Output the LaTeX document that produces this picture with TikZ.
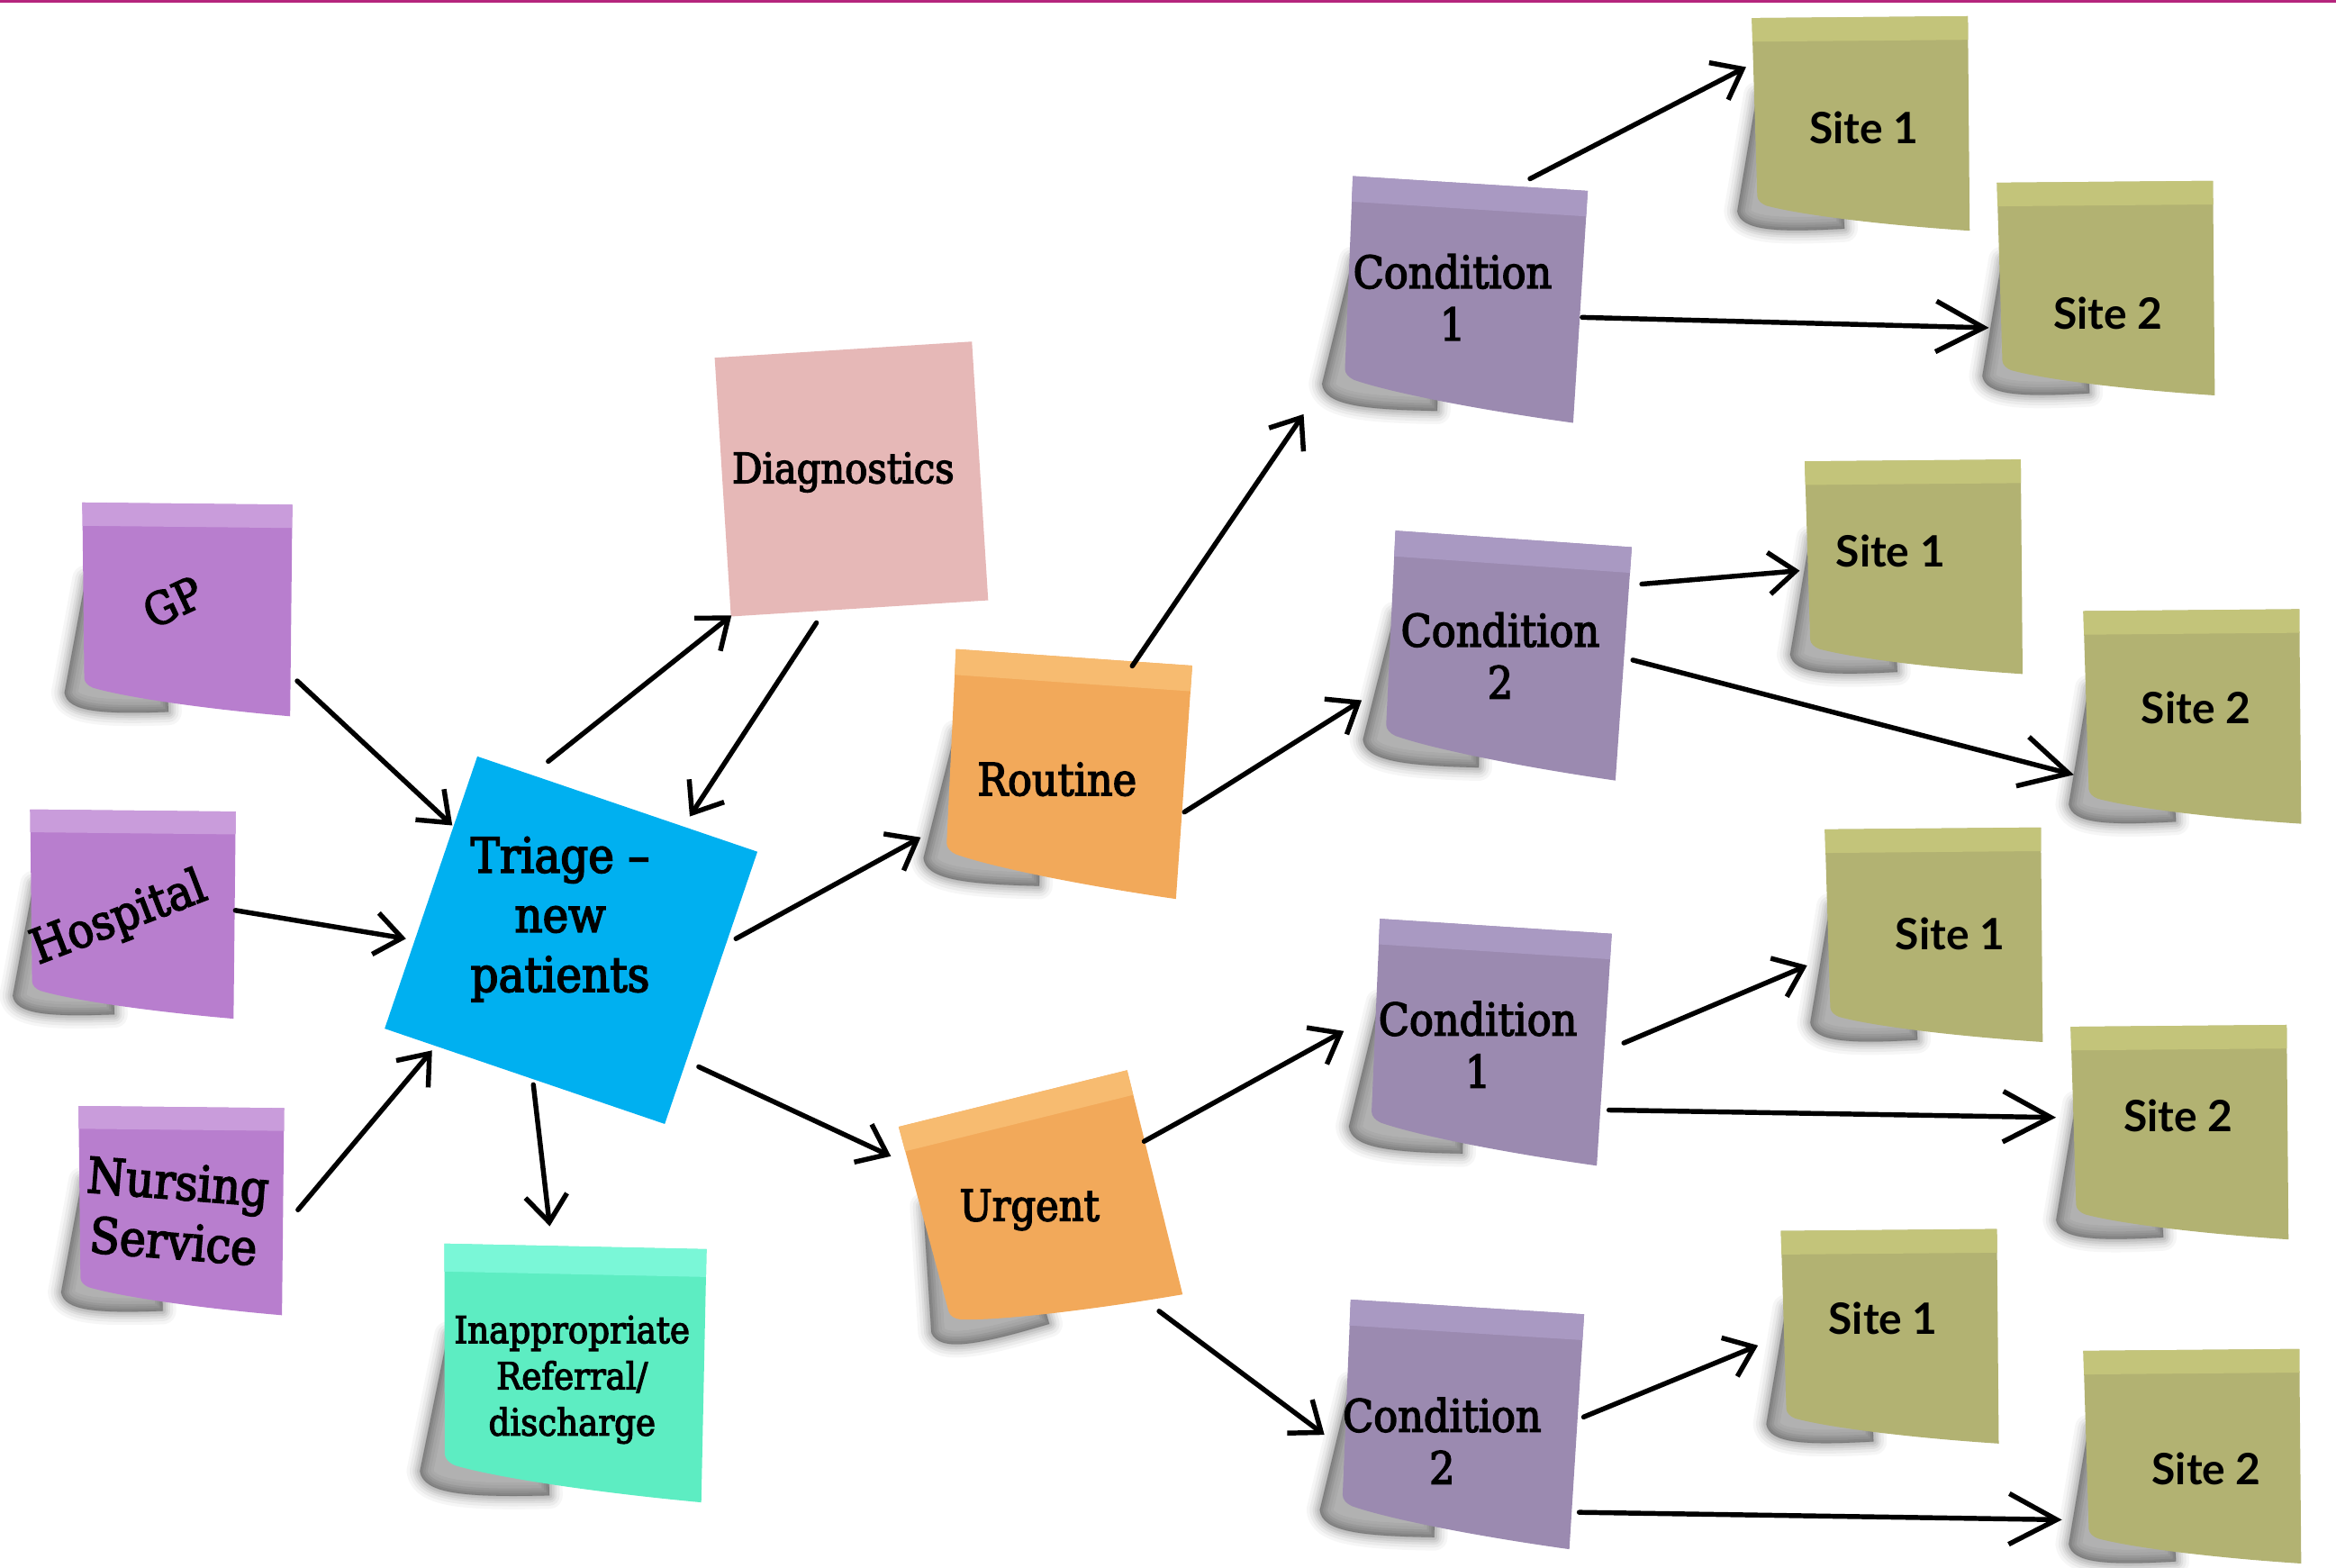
\documentclass[tikz,border=0pt]{standalone}
\usepackage{fontspec}
\newfontfamily\slab[FakeStretch=0.9,FakeBold=3]{DejaVu Serif}
\newfontfamily\lato{Lato}
\usetikzlibrary{arrows.meta,calc}
\definecolor{topline}{HTML}{B5257D}
\definecolor{purpbody}{HTML}{B87ECE}
\definecolor{purpband}{HTML}{C99CDB}
\definecolor{condbody}{HTML}{9B8AB0}
\definecolor{condband}{HTML}{A999C2}
\definecolor{sitebody}{HTML}{B2B272}
\definecolor{siteband}{HTML}{C3C47A}
\definecolor{orbody}{HTML}{F2A95A}
\definecolor{orband}{HTML}{F7BB70}
\definecolor{tealbody}{HTML}{5DEDC2}
\definecolor{tealband}{HTML}{7AF7D7}
\definecolor{diagc}{HTML}{E6B8B7}
\definecolor{triagec}{HTML}{00B0F0}

% #1 centre, #2 angle, #3 width, #4 height, #5 body colour, #6 band colour
\newcommand\stickynote[6]{%
 \begin{scope}[shift={#1},rotate=#2]
  \pgfmathsetmacro\hw{#3/2}\pgfmathsetmacro\hh{#4/2}%
  \pgfmathsetmacro\ww{#3}\pgfmathsetmacro\HH{#4}%
  \foreach \lw/\op in {18/0.035,14/0.045,10/0.055,7/0.06,4/0.07,1/0.08}{%
   \path[fill=black,fill opacity=\op,draw=black,draw opacity=\op,line width=\lw pt,line join=round]
    (-\hw+0.02*\ww,-\hh+0.36*\HH) -- (-\hw-0.075*\ww,\hh-0.1*\HH)
    .. controls (-\hw-0.06*\ww,\hh-0.01*\HH) and (-\hw+0.1*\ww,\hh+0.0*\HH) .. (-\hw+0.42*\ww,\hh-0.015*\HH)
    -- (-0.1*\ww,0) -- cycle;}
  \fill[#5] (-\hw,-\hh) -- (\hw,-\hh) -- (\hw,\hh)
    .. controls (0.1*\ww,\hh-0.03*\HH) and (-\hw+0.22*\ww,\hh-0.08*\HH) .. (-\hw+0.06*\ww,\hh-0.125*\HH)
    .. controls (-\hw+0.035*\ww,\hh-0.135*\HH) and (-\hw+0.02*\ww,\hh-0.15*\HH) .. (-\hw+0.018*\ww,\hh-0.17*\HH)
    -- cycle;
  \fill[#6] (-\hw,-\hh) -- (\hw,-\hh) -- (\hw,-\hh+0.11*\HH) -- (-\hw+0.002*\ww,-\hh+0.11*\HH) -- cycle;
 \end{scope}}

\tikzset{
 slabtxt/.style={font=\slab\fontsize{30}{35}\selectfont, align=center, inner sep=0pt},
 sitetxt/.style={font=\lato\bfseries\fontsize{29}{34}\selectfont, inner sep=0pt},
 arr/.style={line width=3.3pt, line cap=round, -{Straight Barb[length=18pt,width=28pt,line width=3.3pt]}},
 longarr/.style={line width=3.3pt, line cap=round, -{Straight Barb[length=32pt,width=34pt,line width=3.3pt]}},
}

\begin{document}
\begin{tikzpicture}[x=1pt,y=-1pt]
\fill[white] (0,0) rectangle (1568,1052);
\useasboundingbox (0,0) rectangle (1568,1052);
\fill[topline] (0,0) rectangle (1568,2);

% flat squares
\begin{scope}[shift={(571.5,321.5)},rotate=3.6]
 \fill[diagc] (-86.5,-87) rectangle (86.5,87);
\end{scope}
\begin{scope}[shift={(383.3,631)},rotate=-18.8]
 \fill[triagec] (-99.3,-96.5) rectangle (99.3,96.5);
\end{scope}

% sticky notes
\stickynote{(125,409)}{-0.6}{141}{142}{purpbody}{purpband}
\stickynote{(88.5,613.5)}{-0.6}{138}{139}{purpbody}{purpband}
\stickynote{(121,812.5)}{-0.6}{138}{139}{purpbody}{purpband}
\stickynote{(384.5,921.5)}{-1.2}{176}{170}{tealbody}{tealband}
\stickynote{(715.5,519.5)}{-4}{159}{157}{orbody}{orband}
\stickynote{(698.5,812.5)}{13.9}{158}{155}{orbody}{orband}
\stickynote{(982,201)}{-3.6}{158}{156}{condbody}{condband}
\stickynote{(1010.5,440)}{-4}{159}{157}{condbody}{condband}
\stickynote{(999,699.5)}{-3.7}{156}{156}{condbody}{condband}
\stickynote{(980,956)}{-3.6}{157}{158}{condbody}{condband}
\stickynote{(1249,83.5)}{0.5}{145}{144}{sitebody}{siteband}
\stickynote{(1413.5,194)}{0.5}{145}{144}{sitebody}{siteband}
\stickynote{(1284.5,381)}{0.5}{145}{144}{sitebody}{siteband}
\stickynote{(1471.5,481.5)}{0.5}{145}{144}{sitebody}{siteband}
\stickynote{(1298,628)}{0.5}{145}{144}{sitebody}{siteband}
\stickynote{(1463,760.5)}{0.5}{145}{144}{sitebody}{siteband}
\stickynote{(1268.5,897.5)}{0.5}{145}{144}{sitebody}{siteband}
\stickynote{(1471.5,978)}{0.5}{145}{144}{sitebody}{siteband}

% texts
\node[slabtxt, rotate=25] (gp) at (116,404) {GP};
\node[slabtxt, font=\slab\fontsize{32}{38}\selectfont, rotate=21] (hosp) at (80,617) {Hospital};
\node[slabtxt, font=\slab\fontsize{33}{40}\selectfont, rotate=-4.5] (nurs) at (118,813) {Nursing\\Service};
\node[slabtxt, font=\slab\fontsize{32.5}{40}\selectfont] (tri) at (376,617) {Triage –\\new\\patients};
\node[slabtxt, font=\slab\fontsize{28}{33}\selectfont] (diag) at (566,317) {Diagnostics};
\node[slabtxt] (rout) at (709.5,523) {Routine};
\node[slabtxt, font=\slab\fontsize{29}{34}\selectfont] (urg) at (691,812) {Urgent};
\node[slabtxt, font=\slab\fontsize{25}{31}\selectfont] (inap) at (384,926) {Inappropriate\\Referral/\\discharge};
\node[slabtxt] (c1a) at (975,199.5) {Condition\\1};
\node[slabtxt] (c2a) at (1007,440) {Condition\\2};
\node[slabtxt] (c1b) at (992,701) {Condition\\1};
\node[slabtxt] (c2b) at (968,967) {Condition\\2};
\node[sitetxt] (s1a) at (1251,86) {Site 1};
\node[sitetxt] (s2a) at (1415,210) {Site 2};
\node[sitetxt] (s1b) at (1269,370) {Site 1};
\node[sitetxt] (s2b) at (1474,475) {Site 2};
\node[sitetxt] (s1c) at (1309,627) {Site 1};
\node[sitetxt] (s2c) at (1462,749) {Site 2};
\node[sitetxt] (s1d) at (1264,885) {Site 1};
\node[sitetxt] (s2d) at (1481,986) {Site 2};

% connectors
\draw[arr] ($(gp)+(83.5,53)$) -- ($(tri)+(-72.4,-63)$);
\draw[arr] ($(hosp)+(78,-6)$) -- ($(tri)+(-103.5,13)$);
\draw[arr] ($(nurs)+(82,-1)$) -- ($(tri)+(-86,88)$);
\draw[arr] ($(tri)+(-8,-106)$) -- ($(diag)+(-75,96)$);
\draw[arr] ($(diag)+(-18,101)$) -- ($(tri)+(87,-69)$);
\draw[arr] ($(tri)+(-18,111)$) -- ($(inap)+(-15,-103)$);
\draw[arr] ($(tri)+(118,13)$) -- ($(rout)+(-91.5,39)$);
\draw[arr] ($(tri)+(93,99)$) -- ($(urg)+(-93,-36)$);
\draw[arr] ($(rout)+(50.5,-76)$) -- ($(c1a)+(-100,78.5)$);
\draw[arr] ($(rout)+(85.5,22)$) -- ($(c2a)+(-93,30)$);
\draw[arr] ($(urg)+(77,-46)$) -- ($(c1b)+(-90,-9)$);
\draw[arr] ($(urg)+(87,68)$) -- ($(c2b)+(-79,-4)$);
\draw[arr] ($(c1a)+(52,-79.5)$) -- ($(s1a)+(-79,-41)$);
\draw[longarr] ($(c1a)+(87,13.5)$) -- ($(s2a)+(-80,10)$);
\draw[arr] ($(c2a)+(95,-48)$) -- ($(s1b)+(-61,13)$);
\draw[longarr] ($(c2a)+(89,3)$) -- ($(s2b)+(-82,45)$);
\draw[arr] ($(c1b)+(98,-1)$) -- ($(s1c)+(-96,21)$);
\draw[longarr] ($(c1b)+(88,44)$) -- ($(s2c)+(-82,1)$);
\draw[arr] ($(c2b)+(95,-16)$) -- ($(s1d)+(-84,18)$);
\draw[longarr] ($(c2b)+(92,48)$) -- ($(s2d)+(-97,34)$);
\end{tikzpicture}
\end{document}
